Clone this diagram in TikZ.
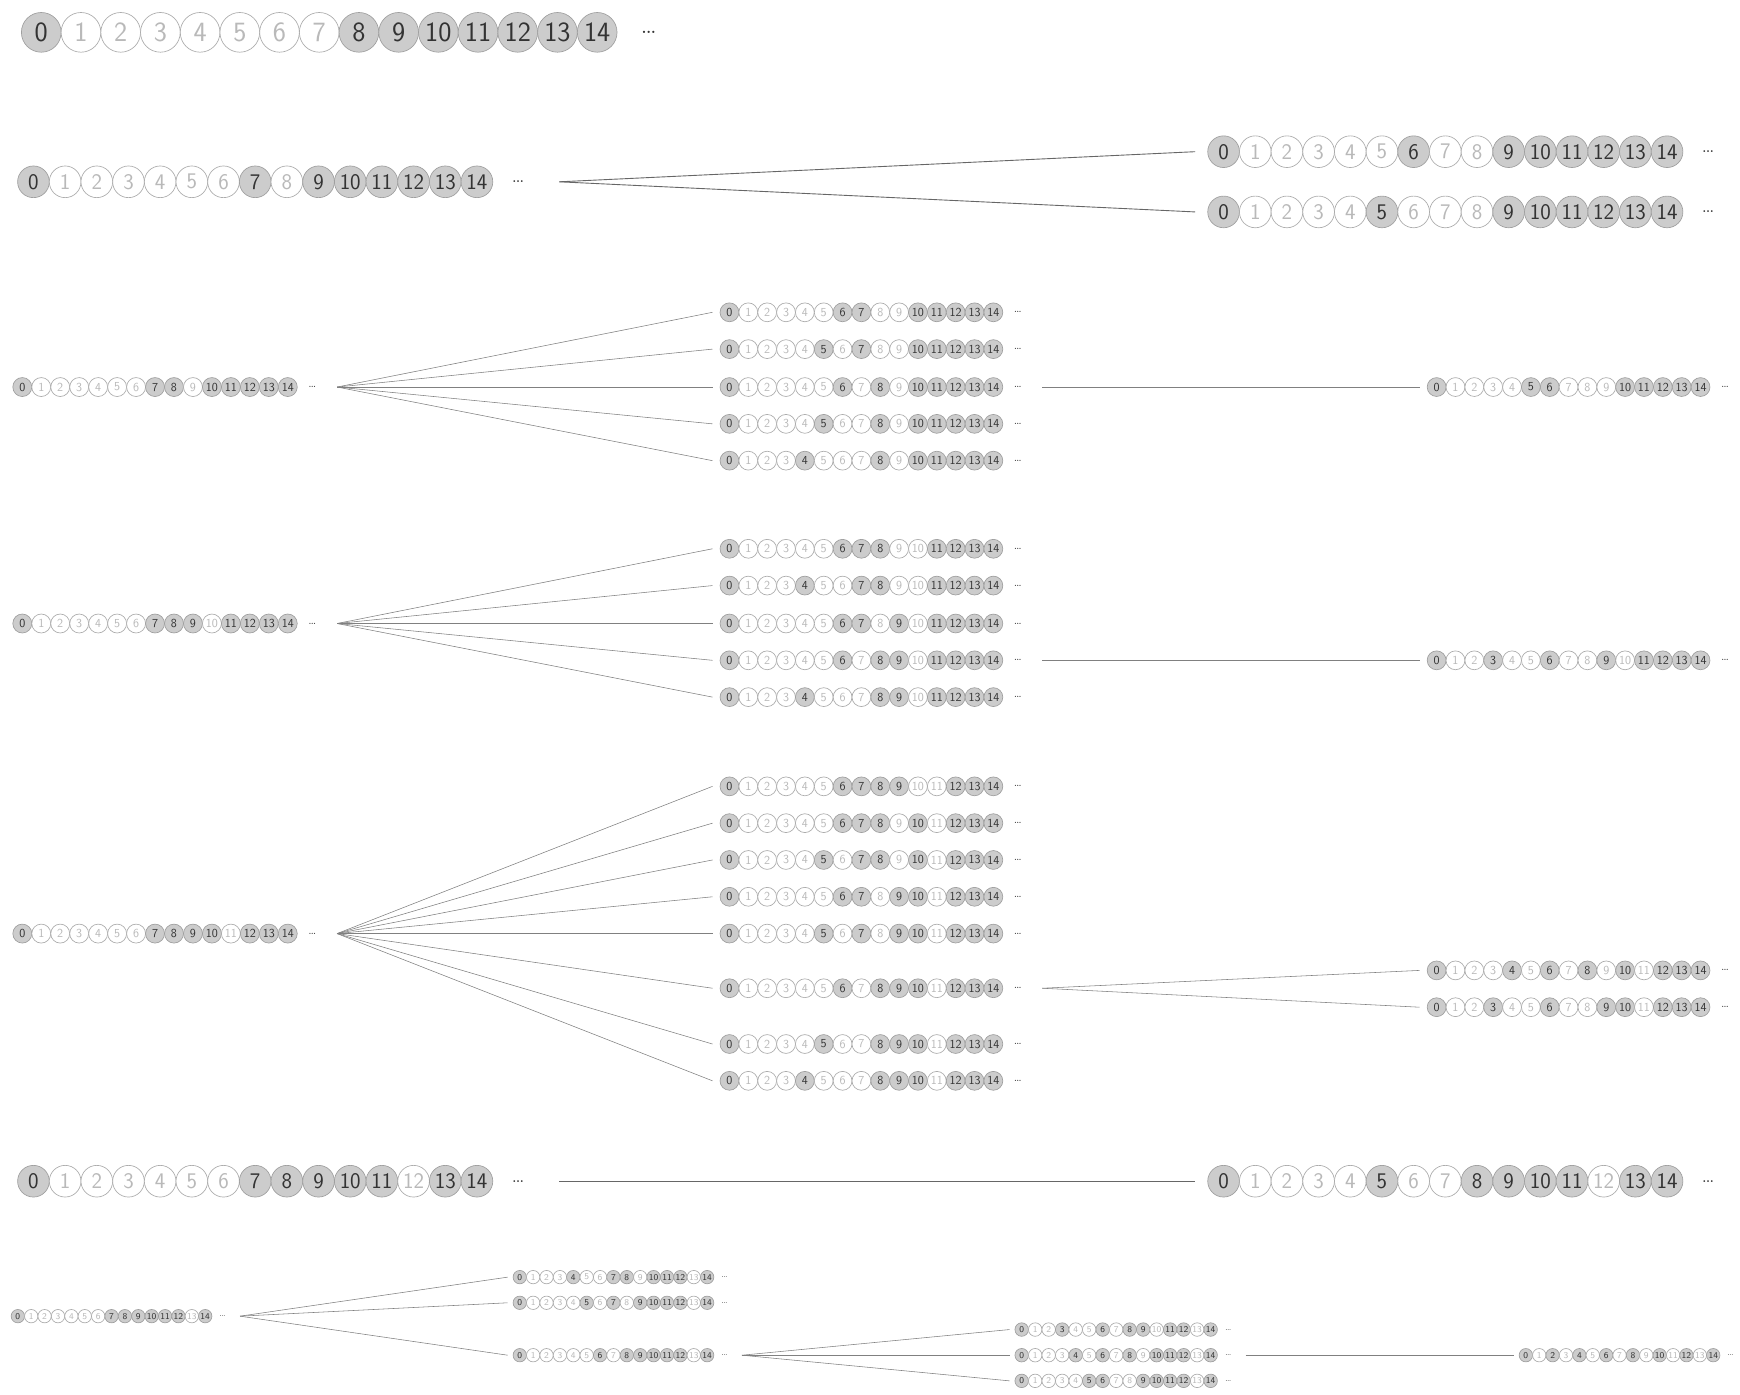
\documentclass[tikz,border=0pt]{standalone}
\begin{document}
\newcommand\seqrow[6]{% name, x0, y, spacing, fontsize, filled list
  \foreach \i in {0,...,14}{%
    \gdef\cst{emp}%
    \foreach \j in {#6}{\ifnum\i=\j\relax\gdef\cst{ful}\fi}%
    \node[\cst, minimum size=#4pt, font=\sffamily\fontsize{#5}{#5}\selectfont] (#1-\i) at ({#2+\i*#4},#3) {\i};
  }
  \node[dots, font=\fontsize{#5}{#5}\selectfont] (#1-d) at ({#2+15.3*#4},#3) {\ldots};
  \coordinate (#1-out) at ({#2+16.6*#4},#3);
  \coordinate (#1-in) at ({#2-0.9*#4},#3);
}
\begin{tikzpicture}[x=1pt,y=-1pt,
  emp/.style={circle, draw=gray!65, fill=white, text=gray!55, inner sep=0pt, line width=0.6pt},
  ful/.style={circle, draw=gray!75, fill=gray!40, text=black!80, inner sep=0pt, line width=0.6pt},
  dots/.style={inner sep=0pt, text=black!80},
  con/.style={draw=black!60, line width=0.8pt},
  thin/.style={draw=black!50, line width=0.5pt}]
\useasboundingbox (0,0) rectangle (1560,1250);
% row 1
\seqrow{a}{37}{29}{35.6}{25}{0,8,9,10,11,12,13,14}
% row 2
\seqrow{b}{30}{163}{28.4}{20}{0,7,9,10,11,12,13,14}
\seqrow{b1}{1097}{136}{28.4}{20}{0,6,9,10,11,12,13,14}
\seqrow{b2}{1097}{190}{28.4}{20}{0,5,9,10,11,12,13,14}
\draw[con] (b-out) -- (b1-in); \draw[con] (b-out) -- (b2-in);
% row 3
\seqrow{c}{20}{347}{17}{11}{0,7,8,10,11,12,13,14}
\seqrow{c1}{654}{280}{16.9}{11}{0,6,7,10,11,12,13,14}
\seqrow{c2}{654}{313}{16.9}{11}{0,5,7,10,11,12,13,14}
\seqrow{c3}{654}{347}{16.9}{11}{0,6,8,10,11,12,13,14}
\seqrow{c4}{654}{380}{16.9}{11}{0,5,8,10,11,12,13,14}
\seqrow{c5}{654}{413}{16.9}{11}{0,4,8,10,11,12,13,14}
\seqrow{cr}{1288}{347}{16.9}{11}{0,5,6,10,11,12,13,14}
\foreach \k in {1,...,5}{\draw[thin] (c-out) -- (c\k-in);}
\draw[thin] (c3-out) -- (cr-in);
% row 4
\seqrow{d}{20}{559}{17}{11}{0,7,8,9,11,12,13,14}
\seqrow{d1}{654}{492}{16.9}{11}{0,6,7,8,11,12,13,14}
\seqrow{d2}{654}{525}{16.9}{11}{0,4,7,8,11,12,13,14}
\seqrow{d3}{654}{559}{16.9}{11}{0,6,7,9,11,12,13,14}
\seqrow{d4}{654}{592}{16.9}{11}{0,6,8,9,11,12,13,14}
\seqrow{d5}{654}{625}{16.9}{11}{0,4,8,9,11,12,13,14}
\seqrow{dr}{1288}{592}{16.9}{11}{0,3,6,9,11,12,13,14}
\foreach \k in {1,...,5}{\draw[thin] (d-out) -- (d\k-in);}
\draw[thin] (d4-out) -- (dr-in);
% row 5
\seqrow{e}{20}{837}{17}{11}{0,7,8,9,10,12,13,14}
\seqrow{e1}{654}{705}{16.9}{11}{0,6,7,8,9,12,13,14}
\seqrow{e2}{654}{738}{16.9}{11}{0,6,7,8,10,12,13,14}
\seqrow{e3}{654}{771}{16.9}{11}{0,5,7,8,10,12,13,14}
\seqrow{e4}{654}{804}{16.9}{11}{0,6,7,9,10,12,13,14}
\seqrow{e5}{654}{837}{16.9}{11}{0,5,7,9,10,12,13,14}
\seqrow{e6}{654}{886}{16.9}{11}{0,6,8,9,10,12,13,14}
\seqrow{e7}{654}{936}{16.9}{11}{0,5,8,9,10,12,13,14}
\seqrow{e8}{654}{969}{16.9}{11}{0,4,8,9,10,12,13,14}
\seqrow{er1}{1288}{870}{16.9}{11}{0,4,6,8,10,12,13,14}
\seqrow{er2}{1288}{903}{16.9}{11}{0,3,6,9,10,12,13,14}
\foreach \k in {1,...,8}{\draw[thin] (e-out) -- (e\k-in);}
\draw[thin] (e6-out) -- (er1-in); \draw[thin] (e6-out) -- (er2-in);
% row 6
\seqrow{f}{30}{1059}{28.4}{20}{0,7,8,9,10,11,13,14}
\seqrow{fr}{1097}{1059}{28.4}{20}{0,5,8,9,10,11,13,14}
\draw[con] (f-out) -- (fr-in);
% row 7
\seqrow{g}{16}{1180}{12}{8}{0,7,8,9,10,11,12,14}
\seqrow{g1}{466}{1145}{12}{8}{0,4,7,8,10,11,12,14}
\seqrow{g2}{466}{1168}{12}{8}{0,5,7,9,10,11,12,14}
\seqrow{g3}{466}{1215}{12}{8}{0,6,8,9,10,11,12,14}
\seqrow{h1}{916}{1192}{12.1}{8}{0,3,6,8,9,11,12,14}
\seqrow{h2}{916}{1215}{12.1}{8}{0,4,6,8,10,11,12,14}
\seqrow{h3}{916}{1238}{12.1}{8}{0,5,6,9,10,11,12,14}
\seqrow{hr}{1368}{1215}{12}{8}{0,2,4,6,8,10,12,14}
\foreach \k in {1,2,3}{\draw[thin] (g-out) -- (g\k-in); \draw[thin] (g3-out) -- (h\k-in);}
\draw[thin] (h2-out) -- (hr-in);
\end{tikzpicture}
\end{document}
